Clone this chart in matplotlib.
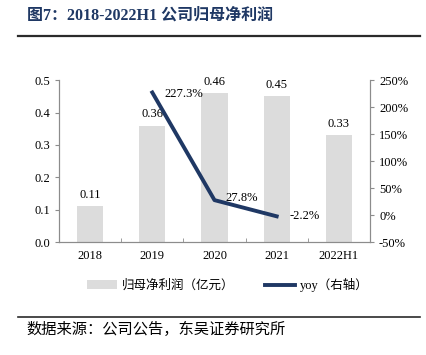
import matplotlib
matplotlib.use("Agg")
import matplotlib.pyplot as plt
import numpy as np

plt.rcParams['font.family'] = ['Liberation Serif', 'Noto Sans CJK SC', 'DejaVu Sans']

years = ['2018', '2019', '2020', '2021', '2022H1']
profit = [0.11, 0.36, 0.46, 0.45, 0.33]
yoy_years = ['2019', '2020', '2021']
yoy = [227.3, 27.8, -2.2]

navy = '#1f3864'
bar_c = '#dcdcdc'
spine_c = '#8c8c8c'

fig = plt.figure(figsize=(4.26, 3.55), dpi=100)
ax = fig.add_axes([0.1385, 0.318, 0.73, 0.456])
ax2 = ax.twinx()

x = np.arange(len(years))
bars = ax.bar(x, profit, width=0.42, color=bar_c, label='归母净利润（亿元）', zorder=1)
for xi, v in zip(x, profit):
    ax.text(xi, v + 0.016, f'{v:.2f}', ha='center', va='bottom', fontsize=9)

xl = [years.index(y) for y in yoy_years]
line, = ax2.plot(xl, yoy, color=navy, lw=2.8, label='yoy（右轴）', zorder=3)
offs = [(0.2, -2), (0.18, 4), (0.2, 0)]
for xi, v, (dx, dy) in zip(xl, yoy, offs):
    ax2.text(xi + dx, v + dy, f'{v:.1f}%', ha='left', va='center', fontsize=9)

ax.set_xlim(-0.5, 4.5)
ax.set_ylim(0, 0.5)
ax.set_yticks(np.arange(0, 0.51, 0.1))
ax.set_yticklabels([f'{v:.1f}' for v in np.arange(0, 0.51, 0.1)])
ax2.set_ylim(-50, 250)
ax2.set_yticks(np.arange(-50, 251, 50))
ax2.set_yticklabels([f'{int(v)}%' for v in np.arange(-50, 251, 50)])

ax.set_xticks(x)
ax.set_xticklabels(years)
ax.set_xticks(np.arange(0.5, 4.5, 1), minor=True)
ax.tick_params(axis='x', which='major', length=0, labelsize=9, pad=6)
ax.tick_params(axis='x', which='minor', length=3, direction='in', color=spine_c)
ax.tick_params(axis='y', length=3, color=spine_c, labelsize=9)
ax2.tick_params(axis='y', length=3, color=spine_c, labelsize=9)

for a in (ax, ax2):
    a.spines['top'].set_visible(False)
    for s in ('left', 'right', 'bottom'):
        a.spines[s].set_color(spine_c)
        a.spines[s].set_linewidth(0.8)
ax.set_zorder(ax2.get_zorder() - 1)
ax.patch.set_visible(False)

fig.legend([bars, line], ['归母净利润（亿元）', 'yoy（右轴）'], loc='center',
           bbox_to_anchor=(0.535, 0.197), ncol=2, frameon=False, fontsize=9,
           handlelength=2.4, handleheight=0.7, columnspacing=2.4, handletextpad=0.4)

fig.text(0.063, 0.955, '图7：2018-2022H1 公司归母净利润', fontsize=11.5, fontweight='bold',
         color=navy, va='center', ha='left')
fig.add_artist(plt.Line2D([0.042, 0.986], [0.898, 0.898], color='#2b2b2b', lw=1.6))
fig.add_artist(plt.Line2D([0.042, 0.986], [0.108, 0.108], color='#2b2b2b', lw=1.2))
fig.text(0.063, 0.072, '数据来源：公司公告，东吴证券研究所', fontsize=11, va='center', ha='left')

fig.savefig('out.png', dpi=100)
